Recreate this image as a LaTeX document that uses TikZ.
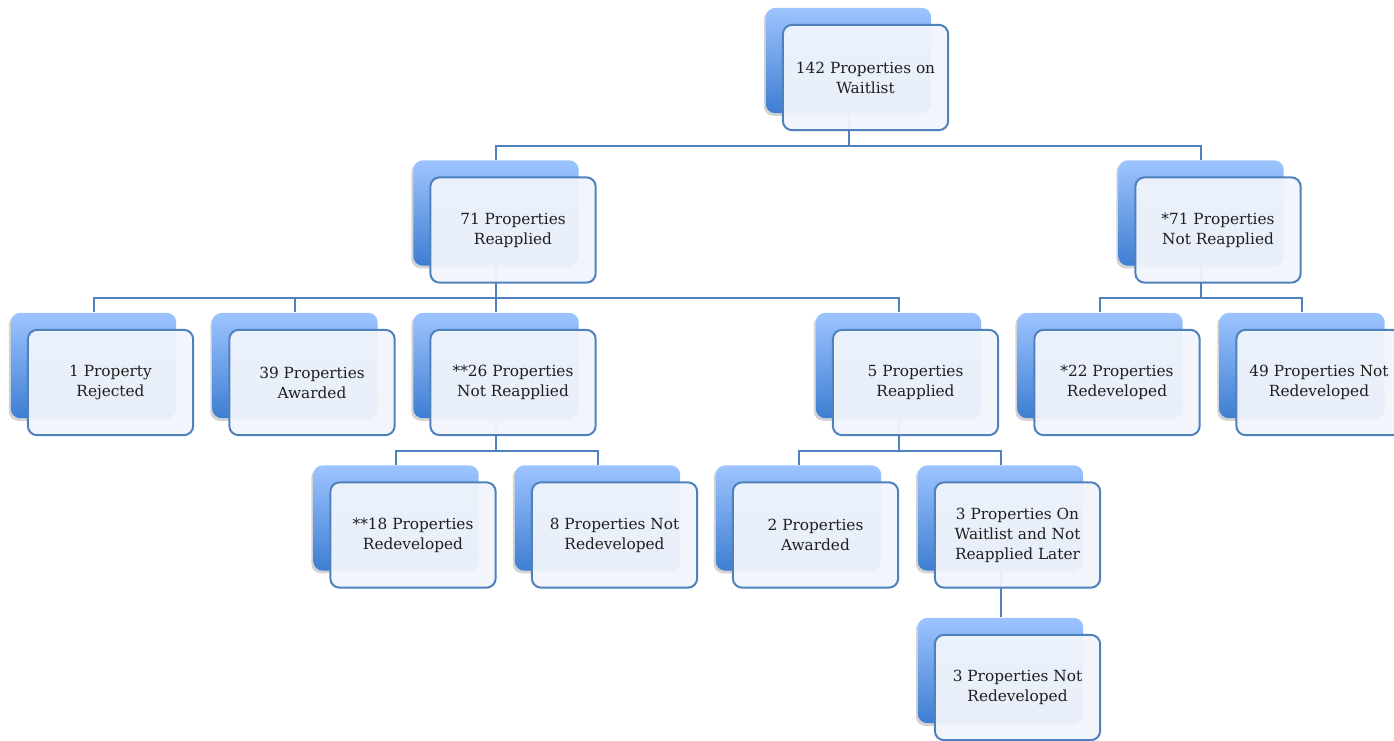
\documentclass[tikz,border=0pt]{standalone}
\usepackage{fontspec}
\setmainfont{DejaVu Serif}
\usetikzlibrary{shadows}

\definecolor{linkblue}{RGB}{79,129,189}
\definecolor{backtop}{RGB}{157,196,255}
\definecolor{backbot}{RGB}{62,126,210}
\definecolor{frontfill}{RGB}{241,245,252}

\tikzset{every picture/.style={line width=0.75pt}}
\tikzset{
	backbox/.style={rectangle, rounded corners=7pt, minimum width=124pt, minimum height=79pt, top color=backtop, bottom color=backbot, draw=none, drop shadow={shadow xshift=-1.5pt, shadow yshift=-2pt, opacity=0.35}},
	frontbox/.style={rectangle, rounded corners=7pt, minimum width=124pt, minimum height=79pt, draw=linkblue, line width=1.5pt, fill=frontfill, fill opacity=0.95, text opacity=1, text=black!88, align=center, font=\fontsize{11.5}{15}\selectfont},
	link/.style={draw=linkblue, line width=1.5pt}
}

\begin{document}
\begin{tikzpicture}[x=0.75pt,y=0.75pt,yscale=-1,xscale=1]
	\useasboundingbox (0,0) rectangle (1394,741);

	%Back boxes
	\node [backbox] (topb) at (848.5,60.5) {};
	\node [backbox] (rappb) at (496,213) {};
	\node [backbox] (nrappb) at (1201,213) {};
	\node [backbox] (rejb) at (93.5,365.5) {};
	\node [backbox] (awdb) at (295,365.5) {};
	\node [backbox] (nr26b) at (496,365.5) {};
	\node [backbox] (re5b) at (898.5,365.5) {};
	\node [backbox] (r22b) at (1100,365.5) {};
	\node [backbox] (n49b) at (1302,365.5) {};
	\node [backbox] (r18b) at (396,518) {};
	\node [backbox] (n8b) at (597.5,518) {};
	\node [backbox] (a2b) at (798.5,518) {};
	\node [backbox] (w3b) at (1000.5,518) {};
	\node [backbox] (n3b) at (1000.5,670.5) {};

	%Connectors
	\draw [link] (topb.south) -- ++(0,32) -| (rappb.north);
	\draw [link] (topb.south) -- ++(0,32) -| (nrappb.north);
	\draw [link] (rappb.south) -- ++(0,32) -| (rejb.north);
	\draw [link] (rappb.south) -- ++(0,32) -| (awdb.north);
	\draw [link] (rappb.south) -- ++(0,32) -| (nr26b.north);
	\draw [link] (rappb.south) -- ++(0,32) -| (re5b.north);
	\draw [link] (nrappb.south) -- ++(0,32) -| (r22b.north);
	\draw [link] (nrappb.south) -- ++(0,32) -| (n49b.north);
	\draw [link] (nr26b.south) -- ++(0,32) -| (r18b.north);
	\draw [link] (nr26b.south) -- ++(0,32) -| (n8b.north);
	\draw [link] (re5b.south) -- ++(0,32) -| (a2b.north);
	\draw [link] (re5b.south) -- ++(0,32) -| (w3b.north);
	\draw [link] (w3b.south) -- (n3b.north);

	% Text Node
	\node [frontbox] (top) at ([shift={(17,17)}]topb.center) {142 Properties on\\Waitlist};
	% Text Node
	\node [frontbox] (rapp) at ([shift={(17,17)}]rappb.center) {71 Properties\\Reapplied};
	% Text Node
	\node [frontbox] (nrapp) at ([shift={(17,17)}]nrappb.center) {*71 Properties\\Not Reapplied};
	% Text Node
	\node [frontbox] (rej) at ([shift={(17,17)}]rejb.center) {1 Property\\Rejected};
	% Text Node
	\node [frontbox] (awd) at ([shift={(17,17)}]awdb.center) {39 Properties\\Awarded};
	% Text Node
	\node [frontbox] (nr26) at ([shift={(17,17)}]nr26b.center) {**26 Properties\\Not Reapplied};
	% Text Node
	\node [frontbox] (re5) at ([shift={(17,17)}]re5b.center) {5 Properties\\Reapplied};
	% Text Node
	\node [frontbox] (r22) at ([shift={(17,17)}]r22b.center) {*22 Properties\\Redeveloped};
	% Text Node
	\node [frontbox] (n49) at ([shift={(17,17)}]n49b.center) {49 Properties Not\\Redeveloped};
	% Text Node
	\node [frontbox] (r18) at ([shift={(17,17)}]r18b.center) {**18 Properties\\Redeveloped};
	% Text Node
	\node [frontbox] (n8) at ([shift={(17,17)}]n8b.center) {8 Properties Not\\Redeveloped};
	% Text Node
	\node [frontbox] (a2) at ([shift={(17,17)}]a2b.center) {2 Properties\\Awarded};
	% Text Node
	\node [frontbox] (w3) at ([shift={(17,17)}]w3b.center) {3 Properties On\\Waitlist and Not\\Reapplied Later};
	% Text Node
	\node [frontbox] (n3) at ([shift={(17,17)}]n3b.center) {3 Properties Not\\Redeveloped};

\end{tikzpicture}
\end{document}
